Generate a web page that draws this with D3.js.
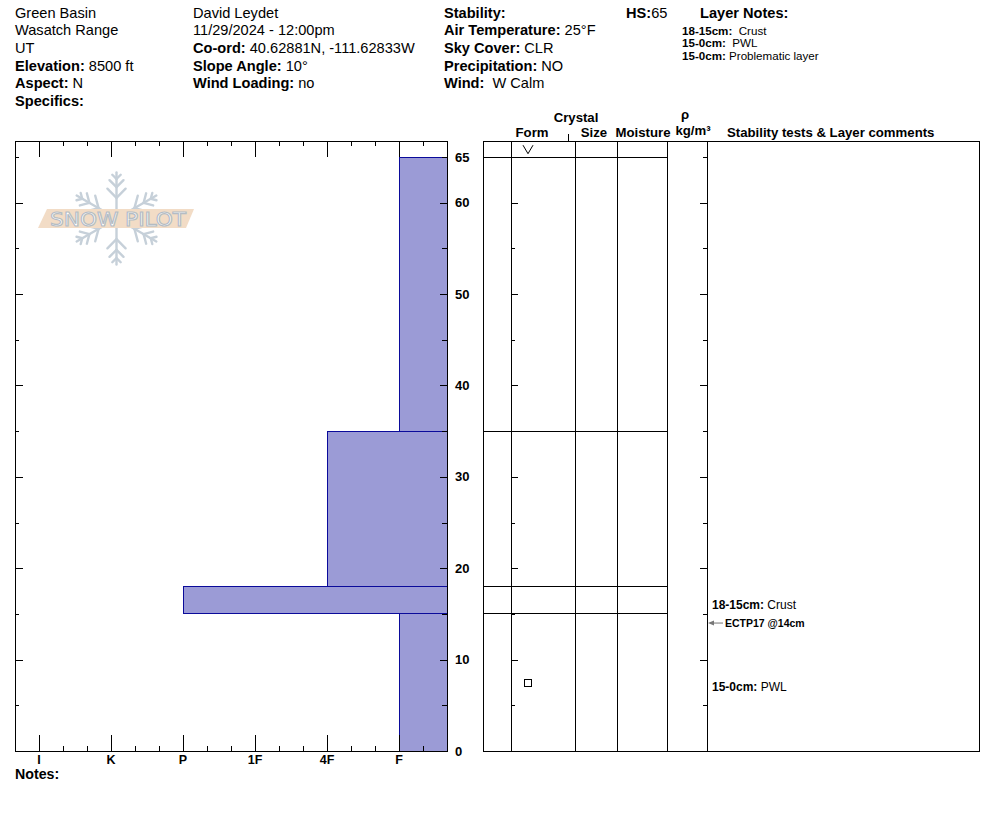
<!DOCTYPE html>
<html>
<head>
<meta charset="utf-8">
<script src="https://cdn.jsdelivr.net/npm/d3@7/dist/d3.min.js"></script>
<style>
  body { margin: 0; background: #fff; }
  svg { display: block; font-family: "Liberation Sans", Arial, sans-serif; }
  .crisp { shape-rendering: crispEdges; }
</style>
</head>
<body>
<script>
// ---------------- DATA ----------------
const layerTops    = [65, 35, 18, 15];
const layerBottoms = [35, 18, 15, 0];
const layerHardness = ["F", "4F", "P", "F"];

const hardnessTickLabels = ["I", "K", "P", "1F", "4F", "F"];
const hardnessLevels = ["F", "4F", "1F", "P", "K", "I"]; // index+1 = hardness value
const depthTickLabels = [65, 60, 50, 40, 30, 20, 10, 0];
const depthMajorTicks = [0, 10, 20, 30, 40, 50, 60];
const depthMinorTicks = [5, 15, 25, 35, 45, 55, 65];

const grainDepths = [65.8, 7.4];
const grainTypes  = ["V", "square"];

const commentTops    = [18, 15];
const commentBottoms = [15, 0];
const commentLabels  = ["18-15cm:", "15-0cm:"];
const commentTexts   = ["Crust", "PWL"];

const testDepths = [14];
const testLabels = ["ECTP17 @14cm"];

const headerCol1 = [["", "Green Basin"], ["", "Wasatch Range"], ["", "UT"], ["Elevation:", " 8500 ft"], ["Aspect:", " N"], ["Specifics:", ""]];
const headerCol2 = [["", "David Leydet"], ["", "11/29/2024 - 12:00pm"], ["Co-ord:", " 40.62881N, -111.62833W"], ["Slope Angle:", " 10°"], ["Wind Loading:", " no"]];
const headerCol3 = [["Stability:", ""], ["Air Temperature:", " 25°F"], ["Sky Cover:", " CLR"], ["Precipitation:", " NO"], ["Wind:", "  W Calm"]];
const snowHeight = ["HS:", "65"];
const layerNoteLabels = ["18-15cm:", "15-0cm:", "15-0cm:"];
const layerNoteTexts  = ["  Crust", "  PWL", " Problematic layer"];

// ---------------- SETUP ----------------
const svg = d3.select("body").append("svg").attr("width", 994).attr("height", 840);

const L = 15, R = 447, T = 141, B = 751;
const y = d3.scaleLinear().domain([0, 65]).range([B, 157]);
const x = d3.scaleLinear().domain([1 / 3, 19 / 3]).range([R, L]);
const hVal = h => hardnessLevels.indexOf(h) + 1;

// ---------------- HEADER ----------------
function headerColumn(rows, x0) {
  rows.forEach((r, i) => {
    const t = svg.append("text").attr("x", x0).attr("y", 17.5 + i * 17.7)
      .attr("font-size", 14.6).attr("fill", "#000").style("white-space", "pre");
    if (r[0]) t.append("tspan").attr("font-weight", "bold").text(r[0]);
    if (r[1]) t.append("tspan").text(r[1]);
  });
}
headerColumn(headerCol1, 15);
headerColumn(headerCol2, 193);
headerColumn(headerCol3, 444);

{
  const t = svg.append("text").attr("x", 626).attr("y", 17.5).attr("font-size", 14.6);
  t.append("tspan").attr("font-weight", "bold").text(snowHeight[0]);
  t.append("tspan").text(snowHeight[1]);
  svg.append("text").attr("x", 700).attr("y", 17.5).attr("font-size", 14.6)
    .attr("font-weight", "bold").text("Layer Notes:");
  layerNoteLabels.forEach((lab, i) => {
    const tt = svg.append("text").attr("x", 682).attr("y", 35 + i * 12.3).attr("font-size", 11.6)
      .style("white-space", "pre");
    tt.append("tspan").attr("font-weight", "bold").text(lab);
    tt.append("tspan").text(layerNoteTexts[i]);
  });
}

// ---------------- WATERMARK ----------------
{
  const cx = 116.5, cy = 218.5, r = 46;
  const wm = svg.append("g").attr("stroke", "#c6d0d9").attr("stroke-width", 2.4)
    .attr("fill", "none").attr("stroke-linecap", "round");
  [90, 30, 150, 210, 270, 330].forEach(a => {
    const rad = a * Math.PI / 180;
    const ux = Math.cos(rad), uy = -Math.sin(rad);
    const px = -uy, py = ux;
    wm.append("line").attr("x1", cx + ux * 10).attr("y1", cy + uy * 10)
      .attr("x2", cx + ux * r).attr("y2", cy + uy * r);
    [0.45, 0.68, 0.86].forEach((f, k) => {
      const bl = [13, 10, 6][k];
      const bx = cx + ux * r * f, by = cy + uy * r * f;
      [1, -1].forEach(s => {
        wm.append("line").attr("x1", bx).attr("y1", by)
          .attr("x2", bx + ux * bl * 0.7 + s * px * bl * 0.7)
          .attr("y2", by + uy * bl * 0.7 + s * py * bl * 0.7);
      });
    });
  });
  svg.append("polygon").attr("points", "47,209 194,209 186,228 38,228")
    .attr("fill", "#f2dcc6");
  svg.append("text").attr("x", 118).attr("y", 226).attr("text-anchor", "middle")
    .attr("font-family", "DejaVu Sans").attr("font-size", 19)
    .attr("fill", "#ffffff").attr("stroke", "#b4bcc4")
    .attr("stroke-width", 1.1).attr("textLength", 136).attr("lengthAdjust", "spacingAndGlyphs")
    .text("SNOW PILOT");
}

// ---------------- HARDNESS BARS ----------------
const layers = layerTops.map((t, i) => ({ top: t, bottom: layerBottoms[i], h: layerHardness[i] }));
svg.append("g").selectAll("rect").data(layers).join("rect")
  .attr("x", d => x(hVal(d.h)))
  .attr("y", d => y(d.top))
  .attr("width", d => R - x(hVal(d.h)))
  .attr("height", d => y(d.bottom) - y(d.top))
  .attr("fill", "#9b9bd6").attr("stroke", "#0a0a9a").attr("stroke-width", 1)
  .attr("class", "crisp");

// ---------------- LEFT FRAME & AXES ----------------
function styleAxis(g) {
  g.select(".domain").remove();
  g.selectAll(".tick line").attr("stroke", "#000").attr("stroke-width", 1).attr("class", "crisp");
  g.selectAll(".tick text").remove();
}
const hMajor = hardnessTickLabels.map(l => hVal(l));
const hMinor = d3.range(2, 19).filter(i => i % 3 !== 0).map(i => i / 3);

svg.append("g").attr("transform", `translate(0,${T})`)
  .call(d3.axisBottom(x).tickValues(hMajor).tickSize(16)).call(styleAxis);
svg.append("g").attr("transform", `translate(0,${T})`)
  .call(d3.axisBottom(x).tickValues(hMinor).tickSize(5)).call(styleAxis);
svg.append("g").attr("transform", `translate(0,${B})`)
  .call(d3.axisTop(x).tickValues(hMajor).tickSize(16)).call(styleAxis);
svg.append("g").attr("transform", `translate(0,${B})`)
  .call(d3.axisTop(x).tickValues(hMinor).tickSize(5)).call(styleAxis);

function depthTicks(xPos, dir, bigSize, smallSize) {
  const f = dir === "right" ? d3.axisRight : d3.axisLeft;
  svg.append("g").attr("transform", `translate(${xPos},0)`)
    .call(f(y).tickValues(depthMajorTicks).tickSize(bigSize)).call(styleAxis);
  svg.append("g").attr("transform", `translate(${xPos},0)`)
    .call(f(y).tickValues(depthMinorTicks).tickSize(smallSize)).call(styleAxis);
}
depthTicks(L, "right", 8, 4);
depthTicks(R, "left", 7, 5);

svg.append("rect").attr("x", L).attr("y", T).attr("width", R - L).attr("height", B - T)
  .attr("fill", "none").attr("stroke", "#000").attr("stroke-width", 1).attr("class", "crisp");

// hardness labels
svg.append("g").selectAll("text").data(hardnessTickLabels).join("text")
  .attr("x", d => x(hVal(d))).attr("y", 764).attr("text-anchor", "middle")
  .attr("font-size", 12.5).attr("font-weight", "bold").text(d => d);

// depth labels
svg.append("g").selectAll("text").data(depthTickLabels).join("text")
  .attr("x", 455).attr("y", d => y(d) + 4.5)
  .attr("font-size", 13).attr("font-weight", "bold").text(d => d);

svg.append("text").attr("x", 15).attr("y", 779).attr("font-size", 14.2)
  .attr("font-weight", "bold").text("Notes:");

// ---------------- RIGHT TABLE ----------------
const TL = 483, TR = 979;
const colLines = [511, 575, 617, 667, 707];
svg.append("g").selectAll("line").data(colLines).join("line")
  .attr("x1", d => d).attr("x2", d => d).attr("y1", T).attr("y2", B)
  .attr("stroke", "#000").attr("stroke-width", 1).attr("class", "crisp");
svg.append("line").attr("x1", 568).attr("x2", 568).attr("y1", 134).attr("y2", T)
  .attr("stroke", "#000").attr("class", "crisp");

const boundaries = Array.from(new Set(layerTops));
svg.append("g").selectAll("line").data(boundaries).join("line")
  .attr("x1", TL).attr("x2", 667).attr("y1", d => y(d)).attr("y2", d => y(d))
  .attr("stroke", "#000").attr("stroke-width", 1).attr("class", "crisp");

depthTicks(511, "right", 7, 4);
depthTicks(707, "left", 7, 4);

svg.append("rect").attr("x", TL).attr("y", T).attr("width", TR - TL).attr("height", B - T)
  .attr("fill", "none").attr("stroke", "#000").attr("stroke-width", 1).attr("class", "crisp");

// headers
const hdr = svg.append("g").attr("font-size", 13.2).attr("font-weight", "bold").attr("text-anchor", "middle");
hdr.append("text").attr("x", 576).attr("y", 122).text("Crystal");
hdr.append("text").attr("x", 532).attr("y", 137).text("Form");
hdr.append("text").attr("x", 594).attr("y", 137).text("Size");
hdr.append("text").attr("x", 643).attr("y", 137).text("Moisture");
hdr.append("text").attr("x", 685).attr("y", 119).text("ρ");
hdr.append("text").attr("x", 693).attr("y", 135).text("kg/m³");
hdr.append("text").attr("x", 727).attr("y", 137).attr("text-anchor", "start")
  .text("Stability tests & Layer comments");

// grain forms
grainDepths.forEach((d, i) => {
  const cy = y(d), cx = 528;
  if (grainTypes[i] === "V") {
    svg.append("path").attr("d", `M${cx - 5},${cy - 4.5} L${cx},${cy + 4} L${cx + 5},${cy - 4.5}`)
      .attr("fill", "none").attr("stroke", "#000").attr("stroke-width", 1);
  } else {
    svg.append("rect").attr("x", cx - 3.5).attr("y", cy - 3.5).attr("width", 7).attr("height", 7)
      .attr("fill", "none").attr("stroke", "#000").attr("stroke-width", 1).attr("class", "crisp");
  }
});

// layer comments
commentTops.forEach((t, i) => {
  const mid = (t + commentBottoms[i]) / 2;
  const tt = svg.append("text").attr("x", 712).attr("y", y(mid) + 9).attr("font-size", 12)
    .style("white-space", "pre");
  tt.append("tspan").attr("font-weight", "bold").text(commentLabels[i]);
  tt.append("tspan").text(" " + commentTexts[i]);
});

// stability tests
testDepths.forEach((d, i) => {
  const yy = y(d);
  svg.append("line").attr("x1", 710).attr("x2", 723).attr("y1", yy).attr("y2", yy)
    .attr("stroke", "#777").attr("stroke-width", 1);
  svg.append("path").attr("d", `M708,${yy} L714,${yy - 2.5} L714,${yy + 2.5} Z`).attr("fill", "#777");
  svg.append("text").attr("x", 725).attr("y", yy + 3.8).attr("font-size", 10.5)
    .attr("font-weight", "bold").text(testLabels[i]);
});
</script>
</body>
</html>
